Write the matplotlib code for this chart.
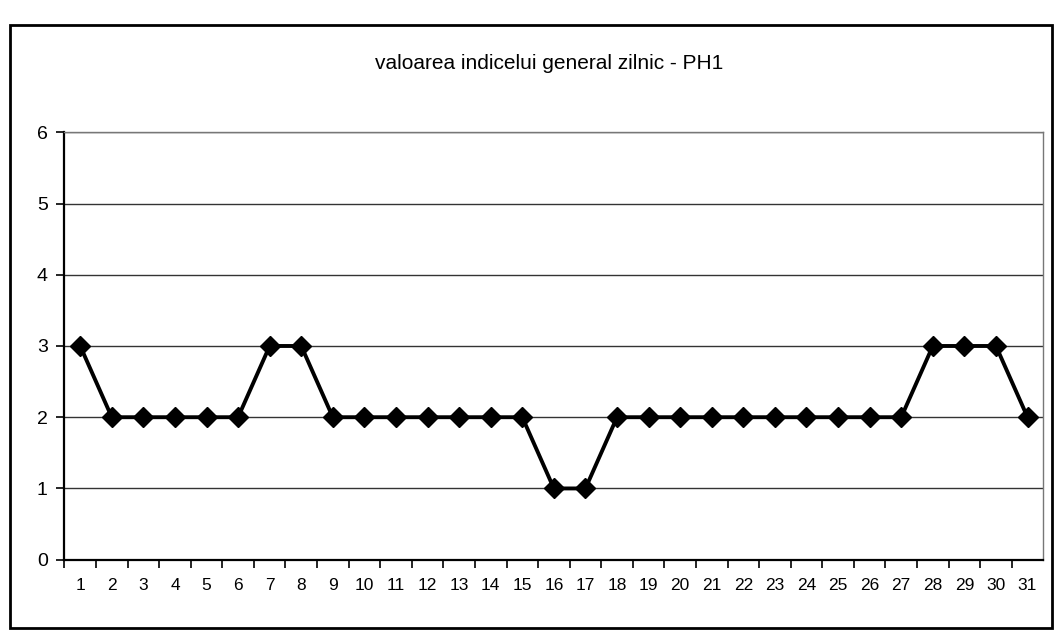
import matplotlib
matplotlib.use("Agg")
import matplotlib.pyplot as plt
from matplotlib.patches import Rectangle

zile = list(range(1, 32))
valori = [3, 2, 2, 2, 2, 2, 3, 3, 2, 2, 2, 2, 2, 2, 2, 1, 1,
          2, 2, 2, 2, 2, 2, 2, 2, 2, 2, 3, 3, 3, 2]
titlu = "valoarea indicelui general zilnic - PH1"

plt.rcParams["font.family"] = ["Liberation Sans", "DejaVu Sans"]

fig = plt.figure(figsize=(10.56, 6.36), dpi=100)
ax = fig.add_axes([0.061, 0.12, 0.927, 0.672])

# chenarul exterior al graficului
fig.patches.append(Rectangle((0.009, 0.013), 0.987, 0.947, transform=fig.transFigure,
                             fill=False, edgecolor="black", linewidth=2.0))

ax.plot(zile, valori, color="black", linewidth=2.8, marker="D", markersize=10.5,
        markerfacecolor="black", markeredgecolor="black", zorder=3)

ax.set_xlim(0.5, 31.5)
ax.set_ylim(0, 6)
ax.set_yticks(range(0, 7))
ax.set_xticks(zile)
ax.set_xticks([z + 0.5 for z in range(0, 31)], minor=True)
ax.tick_params(axis="x", which="major", length=0, pad=13, labelsize=12.5)
ax.tick_params(axis="x", which="minor", length=6, width=1.2, direction="out")
ax.tick_params(axis="y", length=6, width=1.2, labelsize=14, pad=6)

ax.grid(axis="y", color="#333333", linewidth=1.0)
ax.set_axisbelow(True)
for side in ["left", "bottom"]:
    ax.spines[side].set_linewidth(1.6)
for side in ["top", "right"]:
    ax.spines[side].set_color("#777777")
    ax.spines[side].set_linewidth(1.0)

fig.text(0.52, 0.9, titlu, ha="center", va="center", fontsize=15)

fig.savefig("out.png", dpi=100)
plt.close(fig)
